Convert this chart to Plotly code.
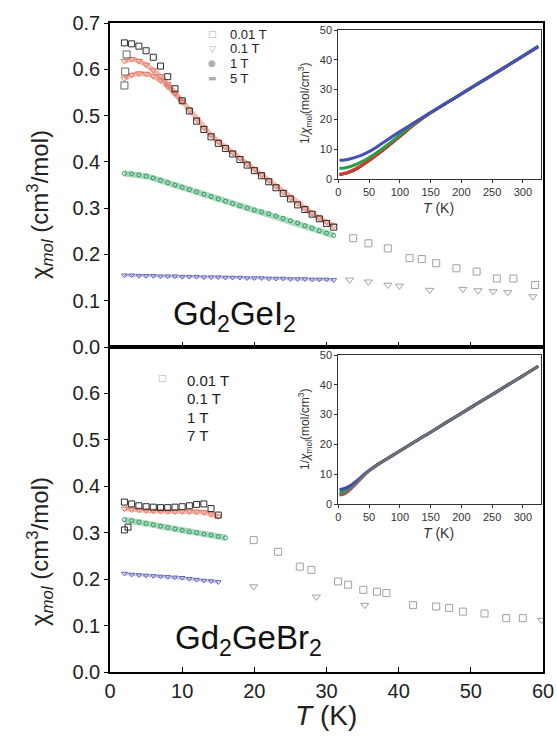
import plotly.graph_objects as go

FONT = "Arial, Liberation Sans, sans-serif"

# ---------------- Gd2GeI2 : chi_mol vs T ----------------
T_I = [2, 3, 4, 5, 6, 7, 8, 9, 10, 11, 12, 13, 14, 15, 16, 17, 18, 19, 20,
       21, 22, 23, 24, 25, 26, 27, 28, 29, 30, 31]
CHI_I_001 = [0.657, 0.655, 0.650, 0.640, 0.626, 0.607, 0.584, 0.558, 0.532, 0.510,
             0.488, 0.470, 0.454, 0.440, 0.429, 0.417, 0.405, 0.393, 0.381, 0.370,
             0.357, 0.344, 0.332, 0.320, 0.307, 0.297, 0.287, 0.277, 0.267, 0.259]
T_I_001_ZFC = [2.0, 2.1, 2.3]
CHI_I_001_ZFC = [0.565, 0.595, 0.632]
CHI_I_01_A = [0.618, 0.622, 0.618, 0.610, 0.598, 0.585, 0.568, 0.550, 0.532, 0.512,
              0.492, 0.474, 0.458, 0.444, 0.432, 0.420, 0.408, 0.396, 0.384, 0.372,
              0.360, 0.347, 0.335, 0.322, 0.310, 0.299, 0.289, 0.279, 0.270, 0.262]
T_I_01_B = [2, 3, 4, 5, 6, 7, 8, 9, 10]
CHI_I_01_B = [0.580, 0.588, 0.591, 0.590, 0.585, 0.576, 0.563, 0.548, 0.530]
CHI_I_1 = [0.375, 0.374, 0.372, 0.369, 0.365, 0.360, 0.355, 0.350, 0.345, 0.340,
           0.335, 0.330, 0.325, 0.320, 0.315, 0.310, 0.305, 0.300, 0.296, 0.292,
           0.288, 0.283, 0.278, 0.273, 0.268, 0.262, 0.257, 0.251, 0.246, 0.241]
CHI_I_5 = [0.155, 0.155, 0.154, 0.154, 0.154, 0.153, 0.153, 0.153, 0.152, 0.152,
           0.152, 0.151, 0.151, 0.151, 0.150, 0.150, 0.150, 0.149, 0.149, 0.149,
           0.148, 0.148, 0.148, 0.147, 0.147, 0.147, 0.146, 0.146, 0.146, 0.145]
# sparse points above 31 K
T_I_001_HI = [33.7, 35.8, 38.5, 41.5, 43.2, 45.2, 48.0, 50.8, 53.6, 55.9, 58.9]
CHI_I_001_HI = [0.235, 0.224, 0.213, 0.192, 0.190, 0.181, 0.170, 0.163, 0.148, 0.148, 0.134]
T_I_5_HI = [33.2, 35.8, 38.5, 40.1, 44.3, 48.9, 51.0, 53.1, 55.1, 58.6]
CHI_I_5_HI = [0.145, 0.141, 0.134, 0.132, 0.123, 0.125, 0.122, 0.120, 0.118, 0.109]

# ---------------- Gd2GeBr2 : chi_mol vs T ----------------
T_B = [2, 3, 4, 5, 6, 7, 8, 9, 10, 11, 12, 13, 14, 15]
CHI_B_001 = [0.366, 0.362, 0.358, 0.356, 0.355, 0.354, 0.354, 0.355, 0.356, 0.358,
             0.361, 0.362, 0.352, 0.338]
T_B_001_ZFC = [2.0, 2.5]
CHI_B_001_ZFC = [0.306, 0.312]
CHI_B_01 = [0.352, 0.350, 0.349, 0.348, 0.347, 0.347, 0.346, 0.346, 0.346, 0.346,
            0.345, 0.344, 0.340, 0.335]
T_B_1 = [2, 3, 4, 5, 6, 7, 8, 9, 10, 11, 12, 13, 14, 15, 16]
CHI_B_1 = [0.328, 0.326, 0.323, 0.320, 0.317, 0.314, 0.311, 0.308, 0.305, 0.302,
           0.300, 0.297, 0.295, 0.292, 0.289]
CHI_B_7 = [0.212, 0.210, 0.209, 0.208, 0.207, 0.206, 0.205, 0.204, 0.203, 0.201,
           0.199, 0.197, 0.196, 0.194]
T_B_001_HI = [19.9, 23.3, 26.3, 27.9, 31.6, 33.0, 35.1, 37.0, 38.3, 42.0, 45.2, 47.0,
              48.9, 51.9, 54.9, 57.2]
CHI_B_001_HI = [0.284, 0.259, 0.227, 0.220, 0.195, 0.188, 0.177, 0.173, 0.170, 0.144,
                0.141, 0.138, 0.130, 0.126, 0.116, 0.116]
T_B_7_HI = [19.9, 28.6, 35.3, 59.8]
CHI_B_7_HI = [0.184, 0.162, 0.144, 0.112]

# ---------------- insets : 1/chi vs T ----------------
T_INS = [2, 10, 20, 30, 40, 50, 60, 80, 100, 125, 150, 175, 200, 225, 250, 275, 300, 325]
INV_I_001 = [1.5, 1.8, 2.5, 3.5, 4.8, 6.2, 7.7, 10.9, 14.3, 18.5, 22.2, 25.4, 28.5, 31.7, 34.8, 38.0, 41.2, 44.4]
INV_I_01 = [1.6, 1.9, 2.6, 3.6, 4.9, 6.3, 7.8, 11.0, 14.4, 18.6, 22.2, 25.4, 28.5, 31.7, 34.8, 38.0, 41.2, 44.4]
INV_I_1 = [3.5, 3.7, 4.2, 5.0, 6.0, 7.2, 8.5, 11.5, 14.8, 18.9, 22.3, 25.4, 28.6, 31.8, 34.9, 38.1, 41.3, 44.5]
INV_I_5 = [6.3, 6.4, 6.8, 7.4, 8.2, 9.2, 10.4, 13.2, 15.9, 19.1, 22.3, 25.4, 28.6, 31.8, 34.9, 38.1, 41.3, 44.5]

INV_B_001 = [3.2, 3.6, 5.1, 7.0, 9.2, 11.1, 12.7, 15.3, 17.8, 21.0, 24.1, 27.3, 30.4, 33.6, 36.7, 39.9, 43.0, 46.2]
INV_B_01 = [3.0, 3.4, 5.0, 7.0, 9.2, 11.1, 12.7, 15.3, 17.8, 21.0, 24.1, 27.3, 30.4, 33.6, 36.7, 39.9, 43.0, 46.2]
INV_B_1 = [3.8, 4.3, 5.6, 7.3, 9.4, 11.2, 12.7, 15.3, 17.8, 21.0, 24.1, 27.3, 30.4, 33.6, 36.7, 39.9, 43.0, 46.2]
INV_B_7 = [4.8, 5.2, 6.2, 7.8, 9.6, 11.3, 12.7, 15.3, 17.8, 21.0, 24.1, 27.3, 30.4, 33.6, 36.7, 39.9, 43.0, 46.2]

TOP_FIELDS = ["0.01 T", "0.1 T", "1 T", "5 T"]
BOT_FIELDS = ["0.01 T", "0.1 T", "1 T", "7 T"]
X_TICKS = [0, 10, 20, 30, 40, 50, 60]
Y_TICKS_TOP = [0.0, 0.1, 0.2, 0.3, 0.4, 0.5, 0.6, 0.7]
Y_TICKS_BOT = [0.0, 0.1, 0.2, 0.3, 0.4, 0.5, 0.6]
INS_X_TICKS = [0, 50, 100, 150, 200, 250, 300]
INS_Y_TICKS = [0, 10, 20, 30, 40, 50]

BLACK = "#2b2b2b"
RED = "#e07a66"
RED_BAND = "rgba(232,130,110,0.55)"
GREEN = "#2e9a5c"
GREEN_BAND = "rgba(60,165,105,0.45)"
BLUE = "#6464b4"
BLUE_BAND = "rgba(110,110,200,0.40)"
GRAY = "#a0a0a0"

fig = go.Figure()


def band(x, y, xa, ya, band_col, mcol, symbol, size=6, width=4):
    fig.add_trace(go.Scatter(x=x, y=y, xaxis=xa, yaxis=ya, mode="lines+markers",
                             line=dict(color=band_col, width=width),
                             marker=dict(symbol=symbol, size=size, color=mcol,
                                         line=dict(color=mcol, width=1)),
                             showlegend=False, hoverinfo="skip"))


def pts(x, y, xa, ya, col, symbol, size=7):
    fig.add_trace(go.Scatter(x=x, y=y, xaxis=xa, yaxis=ya, mode="markers",
                             marker=dict(symbol=symbol, size=size, color=col,
                                         line=dict(color=col, width=1)),
                             showlegend=False, hoverinfo="skip"))


def curve(x, y, xa, ya, col, width=3):
    fig.add_trace(go.Scatter(x=x, y=y, xaxis=xa, yaxis=ya, mode="lines",
                             line=dict(color=col, width=width, shape="spline"),
                             showlegend=False, hoverinfo="skip"))


# top panel: Gd2GeI2
band(T_I, CHI_I_5, "x", "y", BLUE_BAND, BLUE, "triangle-down-open", 5, 3)
band(T_I, CHI_I_1, "x", "y", GREEN_BAND, GREEN, "circle-open", 4, 6)
band(T_I, CHI_I_01_A, "x", "y", RED_BAND, RED, "triangle-down-open", 6, 5)
band(T_I_01_B, CHI_I_01_B, "x", "y", RED_BAND, RED, "triangle-down-open", 6, 5)
pts(T_I, CHI_I_001, "x", "y", BLACK, "square-open", 6)
pts(T_I_001_ZFC, CHI_I_001_ZFC, "x", "y", "#666666", "square-open", 7)
pts(T_I_001_HI, CHI_I_001_HI, "x", "y", GRAY, "square-open", 7)
pts(T_I_5_HI, CHI_I_5_HI, "x", "y", GRAY, "triangle-down-open", 7)

# bottom panel: Gd2GeBr2
band(T_B, CHI_B_7, "x2", "y2", BLUE_BAND, BLUE, "triangle-down-open", 5, 3)
band(T_B_1, CHI_B_1, "x2", "y2", GREEN_BAND, GREEN, "circle-open", 4, 6)
band(T_B, CHI_B_01, "x2", "y2", RED_BAND, RED, "triangle-down-open", 6, 5)
pts(T_B, CHI_B_001, "x2", "y2", BLACK, "square-open", 6)
pts(T_B_001_ZFC, CHI_B_001_ZFC, "x2", "y2", BLACK, "square-open", 6)
pts(T_B_001_HI, CHI_B_001_HI, "x2", "y2", GRAY, "square-open", 7)
pts(T_B_7_HI, CHI_B_7_HI, "x2", "y2", GRAY, "triangle-down-open", 7)

# insets
curve(T_INS, INV_I_001, "x3", "y3", "#222222", 3)
curve(T_INS, INV_I_01, "x3", "y3", "#d8392a", 3)
curve(T_INS, INV_I_1, "x3", "y3", "#2aa04a", 3)
curve(T_INS, INV_I_5, "x3", "y3", "#4650b4", 3)

curve(T_INS, INV_B_01, "x4", "y4", "#d8392a", 3)
curve(T_INS, INV_B_1, "x4", "y4", "#2aa04a", 3)
curve(T_INS, INV_B_7, "x4", "y4", "#3a4cb0", 3)
curve(T_INS, INV_B_001, "x4", "y4", "#707070", 2.5)

W, H = 557, 736


def px(x):
    return x / W


def py(y):
    return 1 - y / H


X_DOM = [px(110), px(543)]
main_axis = dict(showline=True, linecolor="black", linewidth=1.5, mirror=True,
                 showgrid=False, zeroline=False, automargin=False,
                 tickfont=dict(family=FONT, size=20, color="#222"))
x_common = dict(main_axis, range=[0, 60], tickvals=X_TICKS, ticks="inside",
                ticklen=5, tickcolor="black")
y_common = dict(main_axis, range=[0, 0.7], ticks="outside", ticklen=4,
                tickcolor="black", tickformat=".1f")

ins_axis = dict(showline=True, linecolor="#333", linewidth=1, mirror=True,
                showgrid=False, zeroline=False, automargin=False,
                ticks="outside", ticklen=3,
                tickcolor="#333", tickfont=dict(family=FONT, size=11, color="#333"))
INS_X_DOM = [px(338.3), px(540.7)]

fig.update_layout(
    width=W, height=H,
    margin=dict(l=0, r=0, t=0, b=0, autoexpand=False),
    paper_bgcolor="white", plot_bgcolor="white",
    xaxis=dict(x_common, domain=X_DOM, anchor="y", showticklabels=False),
    yaxis=dict(y_common, domain=[py(347), py(23)], anchor="x", tickvals=Y_TICKS_TOP),
    xaxis2=dict(x_common, domain=X_DOM, anchor="y2", matches="x"),
    yaxis2=dict(y_common, domain=[py(672), py(347)], anchor="x2", tickvals=Y_TICKS_BOT),
    xaxis3=dict(ins_axis, domain=INS_X_DOM, anchor="y3", range=[0, 329],
                tickvals=INS_X_TICKS),
    yaxis3=dict(ins_axis, domain=[py(179), py(30)], anchor="x3", range=[0, 50],
                tickvals=INS_Y_TICKS),
    xaxis4=dict(ins_axis, domain=INS_X_DOM, anchor="y4", range=[0, 329],
                tickvals=INS_X_TICKS),
    yaxis4=dict(ins_axis, domain=[py(504), py(355)], anchor="x4", range=[0, 50],
                tickvals=INS_Y_TICKS),
)

ann = []


def note(x, y, text, size, color="#222", family=FONT, xanchor="center", angle=0):
    ann.append(dict(x=px(x), y=py(y), xref="paper", yref="paper", text=text,
                    xanchor=xanchor, yanchor="middle", textangle=angle,
                    showarrow=False, font=dict(family=family, size=size, color=color)))


# axis titles
note(326, 715, "<i>T</i> (K)", 28)
YTITLE = "χ<sub><i>mol</i></sub> (cm<sup>3</sup>/mol)"
for yc in (205, 552):
    note(40, yc, YTITLE, 24, angle=-90)
for yc in (208, 533):
    note(438, yc, "<i>T</i> (K)", 14, color="#333")
INS_YTITLE = "1/<i>χ</i><sub>mol</sub>(mol/cm<sup>3</sup>)"
for yc in (104, 430):
    note(305, yc, INS_YTITLE, 12, color="#333", angle=-90)

# compound labels
note(234, 316, "Gd<sub>2</sub>GeI<sub>2</sub>", 33, color="#111")
note(248, 640, "Gd<sub>2</sub>GeBr<sub>2</sub>", 33, color="#111")

# field legends
TOP_SYMS = ["□", "▽", "●", "▬"]
for i, (lab, sym) in enumerate(zip(TOP_FIELDS, TOP_SYMS)):
    yc = 34 + i * 14.7
    note(212, yc, sym, 9, color="#b0b0b0", family="DejaVu Sans")
    note(228, yc, lab, 13, xanchor="left")
for i, lab in enumerate(BOT_FIELDS):
    yc = 380 + i * 18.5
    if i == 0:
        note(162, yc - 2, "□", 9, color="#b0b0b0", family="DejaVu Sans")
    note(185, yc, lab, 15, xanchor="left")

fig.update_layout(annotations=ann)
fig.write_html("out.html")
